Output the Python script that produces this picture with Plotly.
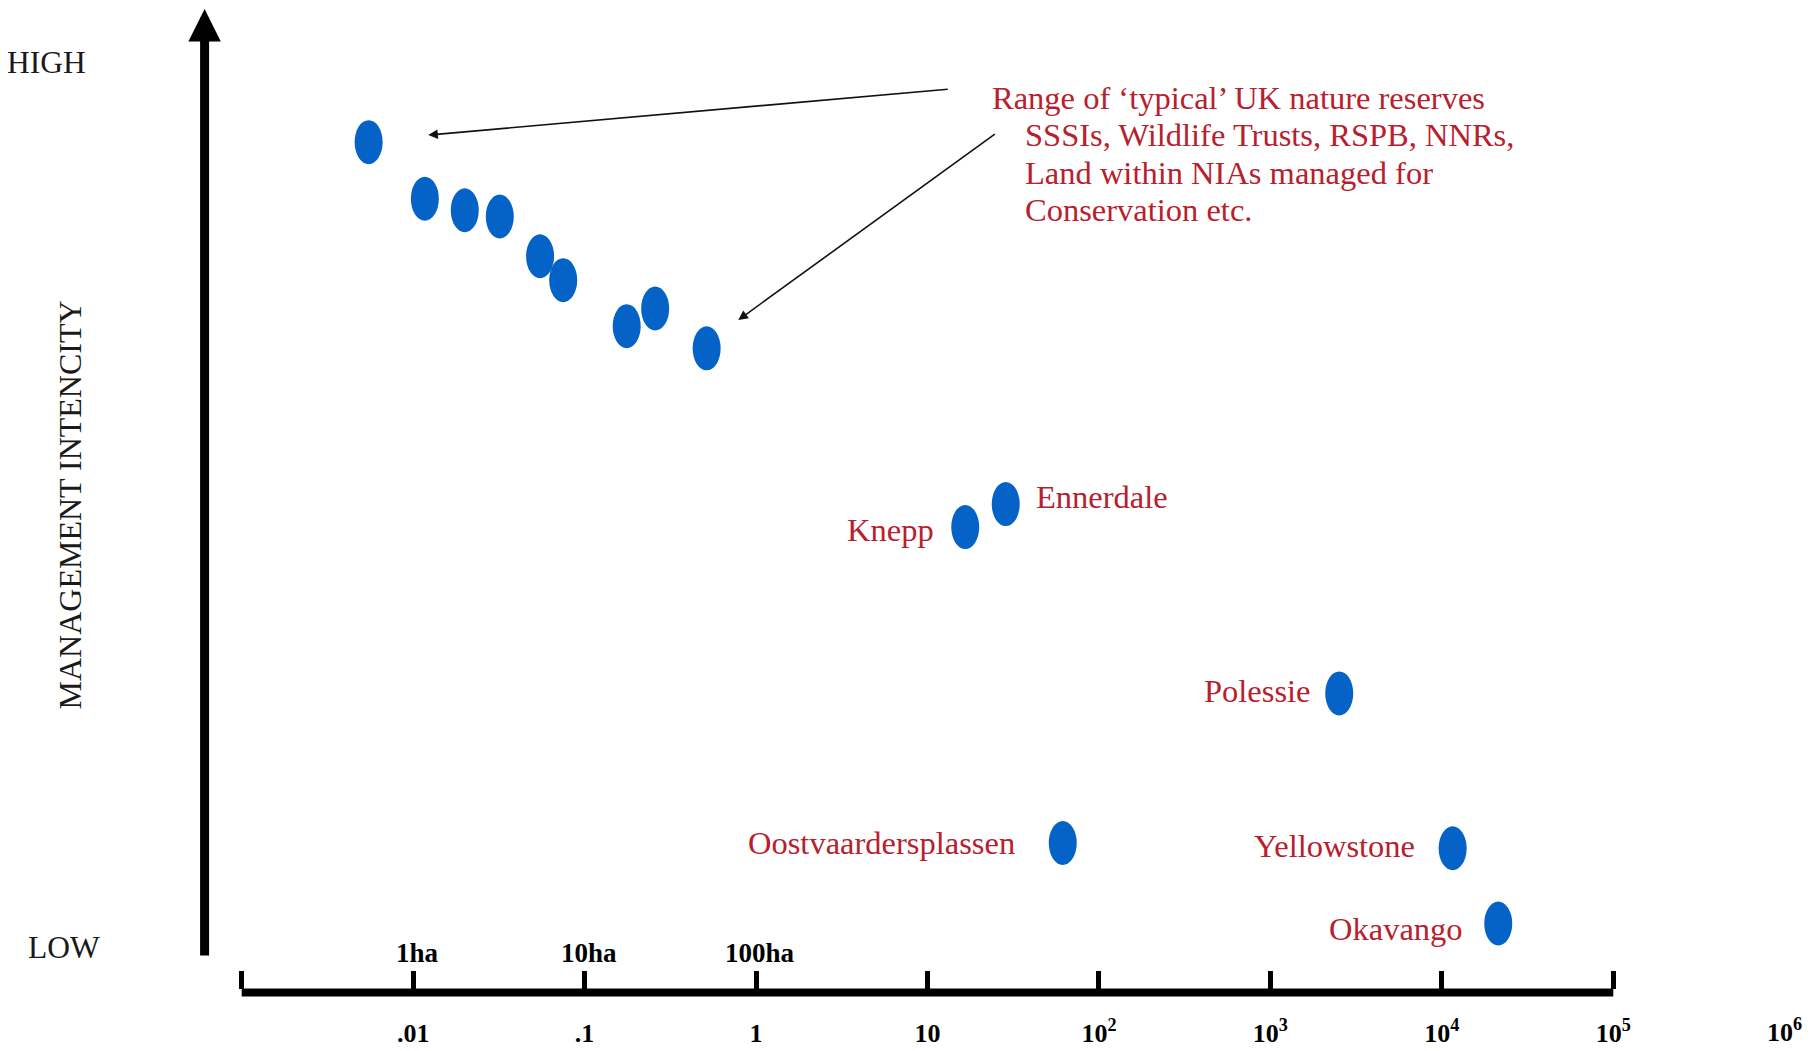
import numpy as np
import plotly.graph_objects as go

# area in km² (log scale), management intensity on a 0 (low) .. 100 (high) scale
reserve_area = [0.0055, 0.0117, 0.020, 0.032, 0.055, 0.075, 0.176, 0.258, 0.515]
reserve_intensity = [91.0, 84.6, 83.3, 82.6, 78.1, 75.4, 70.2, 72.2, 67.7]

site_names = ["Knepp", "Ennerdale", "Polessie", "Oostvaardersplassen", "Yellowstone", "Okavango"]
site_area = [16.6, 28.6, 2520, 61.5, 11560, 21330]
site_intensity = [47.5, 50.1, 28.7, 11.8, 11.2, 2.7]

axis_ticks = [1e-3, 1e-2, 1e-1, 1, 10, 1e2, 1e3, 1e4, 1e5]
axis_text = ["", ".01", ".1", "1", "10", "10<sup>2</sup>", "10<sup>3</sup>",
             "10<sup>4</sup>", "10<sup>5</sup>"]
extra_tick, extra_text = 1e6, "10<sup>6</sup>"
hectare_ticks = [1e-2, 1e-1, 1]
hectare_text = ["1ha", "10ha", "100ha"]

note_lines = [
    "Range of ‘typical’ UK nature reserves",
    "SSSIs, Wildlife Trusts, RSPB, NNRs,",
    "Land within NIAs managed for",
    "Conservation etc.",
]

SERIF = "Liberation Serif, Times New Roman, serif"
RED = "#B8202D"
BLUE = "#0563C8"
INK = "#1a1a1a"

# the page body keeps its default 8px margin, so the figure starts at (8, 8);
# all positions below are page pixels and get converted to figure coords
OFF = 8
W, H = 1816 - OFF, 1051 - OFF


def px_x(p):
    return (p - OFF) / W


def px_y(p):
    return 1 - (p - OFF) / H


X_LEFT, X_RIGHT = 241.7, 1613.3      # 10^-3 and 10^5
DECADE = (X_RIGHT - X_LEFT) / 8
EPS = 0.012                          # small overshoot so the end ticks get drawn
PLOT_BOTTOM = 988.5
LINE_Y = 992.5
Y_PER_UNIT = 8.849
Y_ZERO = 947.4
DOT_W, DOT_H = 28, 44
LABEL_SIZE = 26

# label placement next to each named site: (xanchor, xshift, yshift)
label_style = {
    "Knepp": ("right", -29, -3),
    "Ennerdale": ("left", 28, 7),
    "Polessie": ("right", -26, 2),
    "Oostvaardersplassen": ("right", -46, 0),
    "Yellowstone": ("right", -36, 2),
    "Okavango": ("right", -33, -5),
}

all_area = reserve_area + site_area
all_intensity = reserve_intensity + site_intensity

fig = go.Figure()
fig.add_trace(
    go.Scatter(
        x=all_area,
        y=all_intensity,
        mode="markers",
        marker=dict(size=28, color=BLUE, opacity=0),
        text=[""] * len(reserve_area) + site_names,
        hoverinfo="x+y+text",
        showlegend=False,
    )
)

half_w = 10 ** (DOT_W / 2 / DECADE)
shapes = [
    # thick horizontal axis from 10^-3 to 10^5
    dict(type="line", xref="x", yref="paper", x0=axis_ticks[0], x1=axis_ticks[-1],
         y0=px_y(LINE_Y), y1=px_y(LINE_Y), line=dict(color="black", width=8)),
]
for a, v in zip(all_area, all_intensity):
    shapes.append(
        dict(
            type="circle", xref="x", yref="y", ysizemode="pixel",
            x0=a / half_w, x1=a * half_w,
            yanchor=v, y0=-DOT_H / 2, y1=DOT_H / 2,
            fillcolor=BLUE, line=dict(width=0),
        )
    )

annotations = []
for name, a, v in zip(site_names, site_area, site_intensity):
    anchor, dx, dy = label_style[name]
    annotations.append(
        dict(
            x=np.log10(a), y=v, xref="x", yref="y", text=name, showarrow=False,
            xanchor=anchor, yanchor="middle", xshift=dx, yshift=dy,
            font=dict(family=SERIF, size=32.5, color=RED),
        )
    )

# hectare labels above the axis ticks
for t, txt in zip(hectare_ticks, hectare_text):
    annotations.append(
        dict(
            x=np.log10(t), y=px_y(953), xref="x", yref="paper", text=f"<b>{txt}</b>",
            showarrow=False, xanchor="center", yanchor="middle", xshift=4,
            font=dict(family=SERIF, size=27, color="black"),
        )
    )

# the last label sits past the end of the drawn axis
annotations.append(
    dict(
        x=np.log10(extra_tick), y=px_y(1030.5), xref="x", yref="paper", text=f"<b>{extra_text}</b>",
        showarrow=False, xanchor="center", yanchor="middle",
        font=dict(family=SERIF, size=LABEL_SIZE, color="black"),
    )
)

# note text
note_pos = [(990, 98.4), (1022.7, 135.5), (1022.7, 172.6), (1022.7, 209.6)]
for line, (px, py) in zip(note_lines, note_pos):
    annotations.append(
        dict(
            x=px_x(px), y=px_y(py), xref="paper", yref="paper", text=line, showarrow=False,
            xanchor="left", yanchor="middle",
            font=dict(family=SERIF, size=32.5, color=RED),
        )
    )

# pointers from the note to the reserve cluster
for tip_x, tip_y, ax, ay in [(-1.912, 91.8, 521, -46), (-0.1035, 70.9, 258, -187)]:
    annotations.append(
        dict(
            x=tip_x, y=tip_y, xref="x", yref="y", ax=ax, ay=ay, text="",
            showarrow=True, arrowhead=2, arrowsize=1.2, arrowwidth=1.6, arrowcolor="#111",
        )
    )

# vertical axis arrow
annotations.append(
    dict(
        x=px_x(204.6), y=px_y(8), xref="paper", yref="paper", ax=0, ay=949,
        text="", showarrow=True, arrowhead=2, arrowsize=0.72, arrowwidth=9, arrowcolor="black",
    )
)

annotations += [
    dict(x=px_x(46), y=100, xref="paper", yref="y", text="HIGH", showarrow=False,
         xanchor="center", yanchor="middle", font=dict(family=SERIF, size=31.5, color=INK)),
    dict(x=px_x(63.7), y=0, xref="paper", yref="y", text="LOW", showarrow=False,
         xanchor="center", yanchor="middle", font=dict(family=SERIF, size=31.5, color=INK)),
    dict(x=px_x(69.5), y=px_y(505), xref="paper", yref="paper", text="MANAGEMENT INTENCITY",
         showarrow=False, textangle=-90, xanchor="center", yanchor="middle",
         font=dict(family=SERIF, size=32, color=INK)),
]

y_low = (Y_ZERO - PLOT_BOTTOM) / Y_PER_UNIT
y_high = (Y_ZERO - OFF) / Y_PER_UNIT
pad = EPS * DECADE

fig.update_layout(
    width=W,
    height=H,
    autosize=False,
    margin=dict(l=0, r=0, t=0, b=0),
    paper_bgcolor="white",
    plot_bgcolor="rgba(0,0,0,0)",
    showlegend=False,
    shapes=shapes,
    annotations=annotations,
    xaxis=dict(
        type="log", range=[-3 - EPS, 6 + EPS],
        domain=[px_x(X_LEFT - pad), px_x(X_RIGHT + DECADE + pad)], anchor="y",
        showgrid=False, zeroline=False, showline=False,
        ticks="inside", ticklen=18, tickwidth=5, tickcolor="black",
        tickvals=axis_ticks, ticktext=[f"<b>{t}</b>" if t else "" for t in axis_text],
        tickfont=dict(family=SERIF, size=LABEL_SIZE, color="black"), ticklabelstandoff=26,
    ),
    yaxis=dict(
        range=[y_low, y_high], domain=[px_y(PLOT_BOTTOM), 1], visible=False,
        showgrid=False, zeroline=False,
    ),
)

fig.write_html("out.html", config={"responsive": False, "displayModeBar": False})
